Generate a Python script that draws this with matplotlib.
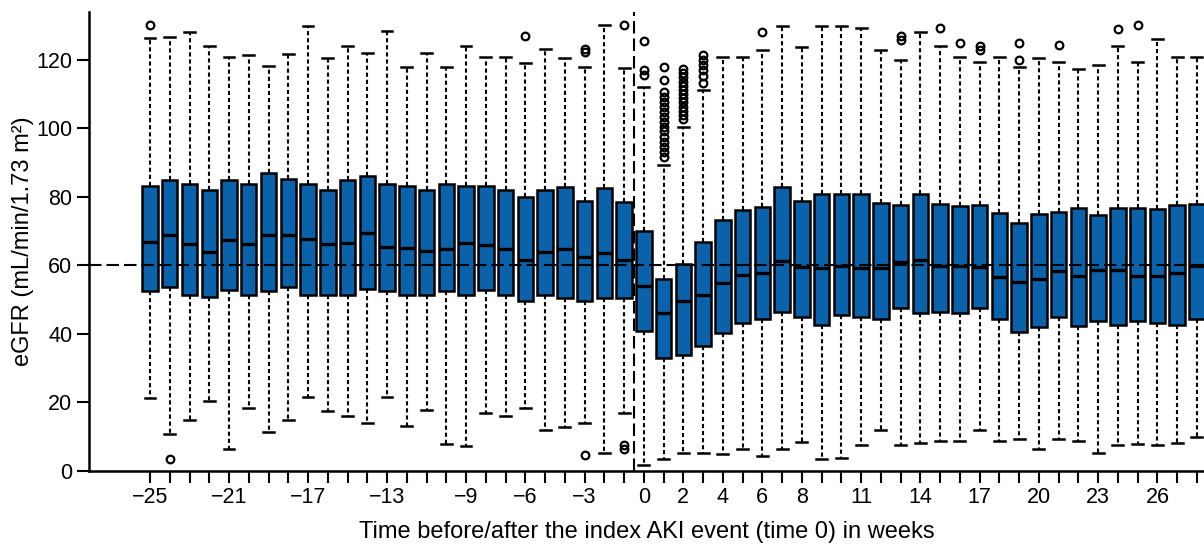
import matplotlib
matplotlib.use("Agg")
import matplotlib.pyplot as plt

plt.rcParams['font.family'] = ['Liberation Sans', 'DejaVu Sans']

# weekly eGFR distributions around the index AKI event
weeks = list(range(-25, 29))
q3 = [83.1, 85.0, 83.9, 82.1, 85.0, 83.9, 86.9, 85.2, 83.9, 82.1, 85.0, 86.0, 83.9,
      83.3, 82.1, 83.9, 83.1, 83.3, 81.9, 80.0, 82.1, 82.9, 78.7, 82.5, 78.5,
      70.1, 56.0, 60.4, 66.9, 73.1, 76.3, 77.0, 82.8, 78.8, 80.9, 80.9, 80.7, 78.3,
      77.5, 80.8, 77.8, 77.2, 77.5, 75.4, 72.4, 74.9, 75.6, 76.7, 74.6, 76.7, 76.7,
      76.4, 77.5, 77.8]
q1 = [52.6, 53.8, 51.4, 50.8, 52.8, 51.4, 52.6, 53.8, 51.4, 51.4, 51.4, 53.0, 52.6,
      51.4, 51.2, 52.4, 51.4, 52.9, 51.4, 49.7, 51.2, 50.6, 49.7, 50.6, 50.6,
      40.9, 33.0, 33.8, 36.4, 40.3, 43.2, 44.4, 46.3, 45.0, 42.7, 45.6, 45.0, 44.2,
      47.6, 46.0, 46.5, 46.1, 47.6, 44.4, 40.6, 42.0, 45.0, 42.4, 43.7, 42.7, 43.7,
      43.2, 42.7, 44.2]
medians = [66.9, 69.0, 66.1, 64.0, 67.5, 66.1, 69.0, 69.0, 67.8, 66.1, 66.4, 69.5, 65.5,
           65.0, 64.2, 64.9, 66.4, 66.0, 64.9, 61.6, 63.9, 64.9, 62.4, 63.5, 61.6,
           53.9, 46.0, 49.5, 51.4, 54.9, 57.2, 57.9, 61.4, 59.6, 59.3, 59.8, 59.3, 59.1,
           61.1, 61.6, 59.8, 59.8, 59.6, 56.7, 55.0, 55.9, 58.2, 56.9, 58.5, 58.5, 56.8,
           57.0, 57.7, 59.8]
whisk_hi = [126.3, 126.6, 128.1, 124.0, 121.0, 121.5, 118.1, 121.7, 130.0, 120.5, 124.0,
            122.1, 128.4, 117.9, 122.0, 117.9, 124.0, 121.0, 120.8, 119.1, 123.2, 120.6,
            117.9, 130.2, 117.6, 112.2, 89.3, 100.5, 111.2, 120.8, 120.8, 123.0, 130.0,
            123.8, 130.0, 130.0, 129.4, 123.0, 120.0, 128.1, 124.0, 121.0, 119.4, 121.0,
            117.9, 120.5, 119.5, 117.4, 118.4, 124.0, 119.5, 126.1, 121.0, 121.0]
whisk_lo = [21.2, 10.7, 14.8, 20.4, 6.2, 18.4, 11.4, 14.8, 21.6, 17.4, 15.9, 13.8, 21.6,
            13.0, 17.8, 7.7, 7.3, 16.8, 15.9, 18.4, 11.8, 12.8, 13.8, 5.2, 16.8,
            1.8, 3.3, 5.3, 5.3, 4.8, 6.3, 4.3, 6.3, 8.4, 3.3, 3.8, 7.4, 11.8,
            7.4, 8.2, 8.6, 8.7, 11.8, 8.7, 9.2, 6.3, 9.2, 8.6, 5.3, 7.4, 7.8,
            7.4, 8.2, 9.9]
outliers = {
    -25: [130.2],
    -24: [3.5],
    -6: [126.9],
    -3: [122.4, 123.3, 4.5],
    -1: [130.2, 7.4, 6.3],
    0: [125.6, 117.0, 115.6],
    1: [117.9, 114.0, 110.7, 109.3, 107.8, 106.4, 104.9, 103.4, 102.0, 100.5,
        99.1, 97.6, 96.1, 94.7, 93.2, 91.7],
    2: [117.3, 116.1, 114.9, 113.7, 112.5, 111.2, 110.1, 108.8, 107.6, 106.4,
        105.2, 103.9, 102.8],
    3: [121.5, 120.0, 118.5, 117.1, 115.2, 113.2],
    6: [128.1],
    13: [127.1, 125.8],
    15: [129.2],
    16: [125.1],
    17: [124.0, 123.0],
    19: [125.1, 120.0],
    21: [124.3],
    24: [129.0],
    25: [130.2],
}
labelled_weeks = [-25, -21, -17, -13, -9, -6, -3, 0, 2, 4, 6, 8, 11, 14, 17, 20, 23, 26]

stats = []
for i, w in enumerate(weeks):
    stats.append(dict(med=medians[i], q1=q1[i], q3=q3[i],
                      whislo=whisk_lo[i], whishi=whisk_hi[i],
                      fliers=outliers.get(w, [])))

W, H = 1204, 546
fig = plt.figure(figsize=(W / 100, H / 100), dpi=100)
ax = fig.add_axes([89 / W, 1 - 470.7 / H, 1 - 89 / W, (470.7 - 11.7) / H])

ax.bxp(stats, positions=weeks, widths=0.78, capwidths=0.55, patch_artist=True,
       boxprops=dict(facecolor='#0a62aa', edgecolor='black', linewidth=1.8),
       whiskerprops=dict(color='black', linewidth=1.5, linestyle=(0, (2, 1.4))),
       capprops=dict(color='black', linewidth=1.8),
       medianprops=dict(color='black', linewidth=2.4),
       flierprops=dict(marker='o', markerfacecolor='none', markeredgecolor='black',
                       markersize=5.5, markeredgewidth=1.6))

# reference lines: eGFR 60 and the index event
ax.axhline(60, color='black', linewidth=1.5, linestyle=(0, (6, 2.4)), zorder=5)
ax.axvline(-0.5, color='black', linewidth=1.5, linestyle=(0, (6, 2.4)), zorder=5)

ax.set_xlim(-28.09, 28.36)
ax.set_ylim(0, 134.1)
ax.set_yticks(range(0, 121, 20))
ax.set_xticks(weeks)
ax.set_xticklabels([(str(w).replace('-', '\u2212') if w in labelled_weeks else '')
                    for w in weeks])

for side in ['top', 'right']:
    ax.spines[side].set_visible(False)
for side in ['left', 'bottom']:
    ax.spines[side].set_linewidth(1.8)
ax.tick_params(axis='both', length=8.4, width=1.5, labelsize=15.5, pad=3.5, color='black')

ax.set_ylabel('eGFR (mL/min/1.73 m\u00b2)', fontsize=17, labelpad=2)
ax.set_xlabel('Time before/after the index AKI event (time 0) in weeks', fontsize=17,
              labelpad=9)

fig.savefig('out.png', dpi=100)
